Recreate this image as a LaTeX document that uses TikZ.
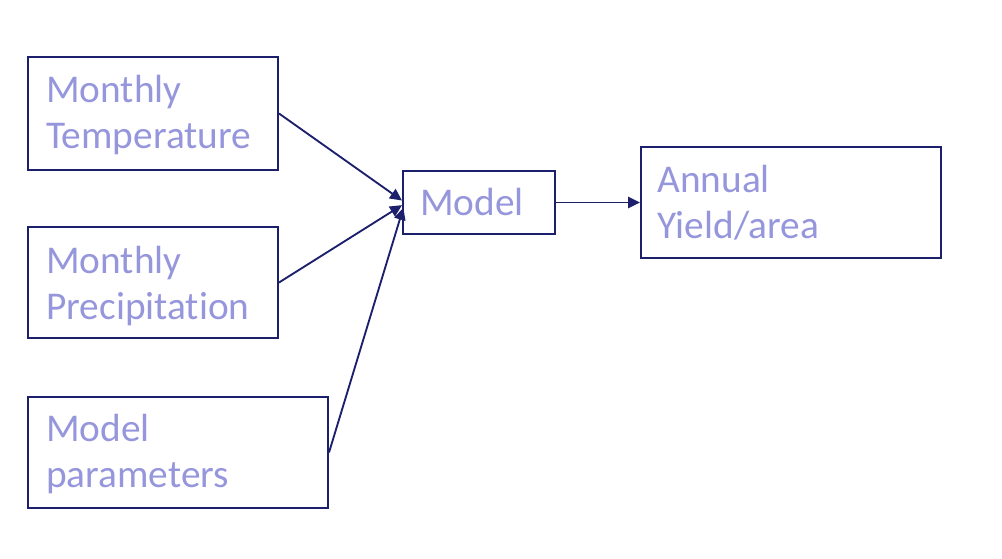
\documentclass[tikz,border=0pt]{standalone}
\usepackage{fontspec}
\setmainfont{Carlito}[Ligatures=NoCommon]
\usetikzlibrary{arrows.meta}
\definecolor{edgenavy}{RGB}{28,32,108}
\definecolor{labellav}{RGB}{150,150,220}
\begin{document}
\begin{tikzpicture}[x=0.75pt,y=-0.75pt,
  box/.style={draw=edgenavy,line width=1.5pt,rectangle,inner sep=0pt},
  lbl/.style={anchor=base west,inner sep=0pt,align=left,text=labellav,
    font=\fontsize{29.5}{34.5}\selectfont},
  feed/.style={draw=edgenavy,line width=1.4pt,-{Triangle[length=9pt,width=8.5pt]}}]
\useasboundingbox (0,0) rectangle (1002,558);
% input boxes
\node[box,minimum width=187.5pt,minimum height=84.75pt] (temp) at (153,113.5) {};
\node[box,minimum width=187.5pt,minimum height=83.25pt] (prec) at (153,282.5) {};
\node[box,minimum width=225pt,minimum height=83.25pt] (par) at (178,452.5) {};
% model and output
\node[box,minimum width=114pt,minimum height=47.25pt] (model) at (479,202.5) {};
\node[box,minimum width=225pt,minimum height=83.25pt] (yield) at (791,202.5) {};
% labels (anchored at the baseline of their last line)
\node[lbl] (ttemp) at (46,148) {Monthly\\Temperature};
\node[lbl] (tprec) at (46,319) {Monthly\\Precipitation};
\node[lbl] (tpar) at (46,487) {Model\\parameters};
\node[lbl] (tmodel) at (420,215) {Model};
\node[lbl] (tyield) at (657,238) {Annual\\Yield/area};
% connectors
\coordinate (m1) at ([yshift=1.5pt]model.west);
\coordinate (m2) at ([yshift=-2pt]model.west);
\coordinate (m3) at ([xshift=1pt,yshift=-4pt]model.west);
\draw[feed] (temp.east) -- (m1);
\draw[feed] (prec.east) -- (m2);
\draw[feed] (par.east) -- (m3);
\draw[feed] (model.east) -- (yield.west);
\end{tikzpicture}
\end{document}
